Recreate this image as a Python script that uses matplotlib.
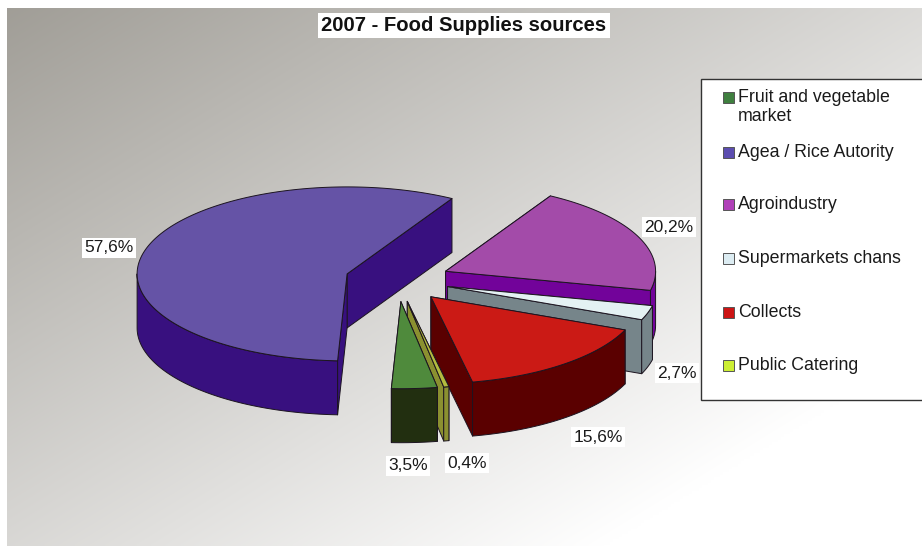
"""3D exploded pie of the 2007 food supply sources."""
import numpy as np
import matplotlib
matplotlib.use('Agg')
import matplotlib.pyplot as plt
from matplotlib.patches import Polygon, Rectangle

plt.rcParams['font.family'] = ['Liberation Sans', 'DejaVu Sans']

title = '2007 - Food Supplies sources'
sources = ['Fruit and vegetable\nmarket', 'Agea / Rice Autority', 'Agroindustry',
           'Supermarkets chans', 'Collects', 'Public Catering']
shares = [3.5, 57.6, 20.2, 2.7, 15.6, 0.4]

top_colors = ['#4f8a3c', '#6553a6', '#a34ba9', '#e4f1f3', '#cb1a15', '#b3bb3e']
side_colors = ['#222f10', '#38107f', '#72039a', '#76858a', '#5a0000', '#8b9030']
key_colors = ['#3f7f3f', '#5c4db0', '#b040b8', '#dcecf2', '#cc1414', '#ccee33']

# pie geometry, in pixels
CX, CY = 397.5, 280
RX, RY = 210, 87
DEPTH = 54
EXPLODE = 0.25
START = 280  # slices run clockwise from here

label_xy = [(408, 466), (109, 248), (669, 227), (677, 373), (598, 437), (467, 463)]
key_y = [97, 152, 204, 258, 312, 365]

fig = plt.figure(figsize=(9.22, 5.46), dpi=100, facecolor='white')
ax = fig.add_axes([0, 0, 1, 1])

# diagonal grey to white backdrop
xx, yy = np.meshgrid(np.linspace(0, 1, 300), np.linspace(0, 1, 200))
grey = np.clip(0.63 + 0.23 * xx + 0.22 * yy, 0, 1)
ax.imshow(np.dstack([grey, grey - 0.006 * (1 - grey) / 0.2, grey - 0.02 * (1 - grey) / 0.2]),
          extent=(7, 922, 546, 8), aspect='auto', interpolation='bilinear', zorder=0)


def rim(ox, oy, a0, a1):
    t = np.radians(np.linspace(a0, a1, max(int(abs(a1 - a0)), 2)))
    return np.column_stack([ox + RX * np.cos(t), oy - RY * np.sin(t)])


def add_face(pts, color, z):
    ax.add_patch(Polygon(pts, closed=True, facecolor=color, edgecolor='#1c1420',
                         linewidth=0.7, joinstyle='round', zorder=z))


def extrude(edge):
    return np.vstack([edge, edge[::-1] + [0, DEPTH]])


# angular span of every slice
ends = START - np.cumsum(shares) * 3.6
starts = np.concatenate([[START], ends[:-1]])

# painter's order, far slices first
for z, i in enumerate([1, 2, 3, 4, 5, 0]):
    a0, a1 = starts[i], ends[i]
    mid = np.radians((a0 + a1) / 2)
    ox = CX + EXPLODE * RX * np.cos(mid)
    oy = CY - EXPLODE * RY * np.sin(mid)
    base = 10 + z * 10

    # the two cut faces, the one further back goes first
    cuts = []
    for a in (a0, a1):
        tip = rim(ox, oy, a, a + 0.001)[0]
        cuts.append(np.array([[ox, oy], tip]))
    cuts.sort(key=lambda c: c[1, 1])
    for k, c in enumerate(cuts):
        add_face(extrude(c), side_colors[i], base + k)

    # outer wall, only where it faces the viewer
    for k in range(-1, 2):
        w0 = max(a1, -180 + 360 * k)
        w1 = min(a0, 360 * k)
        if w1 > w0:
            add_face(extrude(rim(ox, oy, w0, w1)), side_colors[i], base + 3)

    top = np.vstack([[[ox, oy]], rim(ox, oy, a0, a1)])
    add_face(top, top_colors[i], base + 4)

# value labels on small white plates
for v, (lx, ly) in zip(shares, label_xy):
    ax.text(lx, ly, f'{v:.1f}%'.replace('.', ','), fontsize=12.5, color='#1a1a1a',
            ha='center', va='center', zorder=100,
            bbox=dict(facecolor='white', edgecolor='none', pad=1.5))

ax.text(464, 25.5, title, fontsize=14.6, fontweight='bold', color='#111111', ha='center',
        va='center', zorder=100, bbox=dict(facecolor='white', edgecolor='none', pad=2.5))

# legend box runs off the right edge
ax.add_patch(Rectangle((700.5, 79), 240, 321, facecolor='white', edgecolor='#333333',
                       linewidth=1.0, zorder=90))
for name, col, y in zip(sources, key_colors, key_y):
    ax.add_patch(Rectangle((723, y - 5.5), 11, 11, facecolor=col, edgecolor='#555555',
                           linewidth=0.7, zorder=91))
    ax.text(738, y - 8, name, fontsize=12.8, color='#1a1a1a', ha='left', va='top',
            linespacing=1.15, zorder=91)

ax.set_xlim(0, 922)
ax.set_ylim(546, 0)
ax.axis('off')
fig.savefig('out.png', dpi=100, facecolor='white')
